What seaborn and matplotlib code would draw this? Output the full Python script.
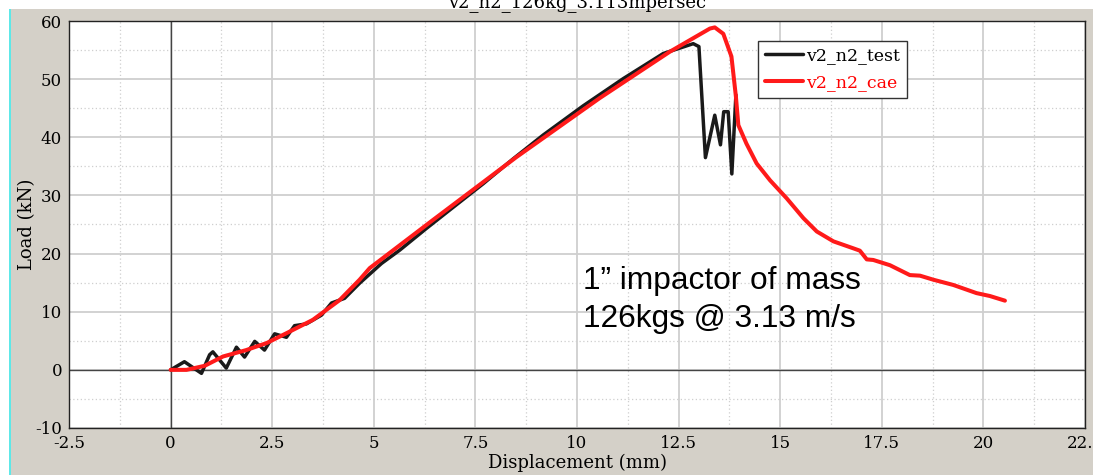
import numpy as np
import pandas as pd
import seaborn as sns
import matplotlib.pyplot as plt
from matplotlib.patches import Rectangle
from matplotlib.ticker import MultipleLocator

# displacement (mm) / load (kN)
test_x = [0.0, 0.34, 0.76, 0.96, 1.04, 1.37, 1.62, 1.82, 2.07, 2.31, 2.56, 2.85,
          3.05, 3.34, 3.71, 3.96, 4.28, 4.65, 5.19, 5.64, 6.29, 6.87, 7.69, 8.43,
          9.17, 10.15, 11.14, 12.12, 12.86, 13.0, 13.16, 13.39, 13.53, 13.61,
          13.72, 13.81, 13.91]
test_y = [0.0, 1.4, -0.6, 2.6, 3.1, 0.3, 3.9, 2.2, 4.9, 3.4, 6.2, 5.6,
          7.6, 7.9, 9.4, 11.5, 12.3, 14.9, 18.3, 20.6, 24.3, 27.5, 32.0, 36.3,
          40.4, 45.4, 50.1, 54.4, 56.1, 55.6, 36.5, 43.8, 38.7, 44.4,
          44.4, 33.7, 47.3]

cae_x = [0.0, 0.39, 0.84, 1.29, 1.86, 2.36, 2.85, 3.5, 4.16, 4.65, 4.9, 6.46,
         8.51, 10.55, 12.28, 13.27, 13.39, 13.6, 13.8, 13.91, 13.97, 14.17,
         14.42, 14.75, 15.16, 15.57, 15.9, 16.31, 16.8, 16.96, 17.13, 17.29,
         17.7, 18.19, 18.44, 18.77, 19.26, 19.83, 20.16, 20.53]
cae_y = [0.0, 0.0, 0.7, 2.3, 3.4, 4.6, 6.3, 8.6, 12.0, 15.5, 17.5, 25.8,
         36.6, 46.7, 54.7, 58.7, 58.9, 57.8, 53.9, 47.0, 42.1, 38.9,
         35.5, 32.6, 29.5, 26.1, 23.8, 22.1, 20.9, 20.5, 19.0, 18.9,
         18.0, 16.3, 16.2, 15.5, 14.6, 13.2, 12.7, 11.9]

x_ticks = [-2.5, 0, 2.5, 5, 7.5, 10, 12.5, 15, 17.5, 20, 22.5]
x_labels = ["-2.5", "0", "2.5", "5", "7.5", "10", "12.5", "15", "17.5", "20", "22.5"]
y_ticks = [-10, 0, 10, 20, 30, 40, 50, 60]

title = "v2_n2_126kg_3.113mpersec"
note = ["1\u201d impactor of mass", "126kgs @ 3.13 m/s"]

sns.set_style("white")
plt.rcParams["axes.unicode_minus"] = False
plt.rcParams["font.family"] = ["DejaVu Serif"]
plt.rcParams["text.color"] = "black"
plt.rcParams["axes.labelcolor"] = "black"
plt.rcParams["xtick.color"] = "black"
plt.rcParams["ytick.color"] = "black"

bg = "#d4d0c8"
fig = plt.figure(figsize=(10.97, 4.75), dpi=100, facecolor=bg)
# white strips and cyan edge of the screenshot
fig.patches.append(Rectangle((0, 1 - 9 / 475), 1, 9 / 475, transform=fig.transFigure,
                             facecolor="white", edgecolor="none", zorder=0))
fig.patches.append(Rectangle((0, 0), 9 / 1097, 1, transform=fig.transFigure,
                             facecolor="white", edgecolor="none", zorder=0))
fig.patches.append(Rectangle((9 / 1097, 0), 2 / 1097, 1 - 9 / 475, transform=fig.transFigure,
                             facecolor="#5ee8e8", edgecolor="none", zorder=0))
fig.patches.append(Rectangle((1 - 4 / 1097, 0), 4 / 1097, 1, transform=fig.transFigure,
                             facecolor="white", edgecolor="none", zorder=0))

ax = fig.add_axes([69 / 1097, 1 - 428 / 475, 1016 / 1097, 407 / 475])
ax.set_facecolor("white")

df_test = pd.DataFrame({"x": test_x, "y": test_y})
df_cae = pd.DataFrame({"x": cae_x, "y": cae_y})
sns.lineplot(data=df_test, x="x", y="y", sort=False, estimator=None, ax=ax,
             color="#1a1a1a", lw=2.5, label="v2_n2_test", zorder=4)
sns.lineplot(data=df_cae, x="x", y="y", sort=False, estimator=None, ax=ax,
             color="#ff1a1a", lw=2.9, label="v2_n2_cae", zorder=5)

ax.set_xlim(-2.5, 22.5)
ax.set_ylim(-10, 60)
ax.set_xticks(x_ticks)
ax.set_xticklabels(x_labels)
ax.set_yticks(y_ticks)
ax.xaxis.set_minor_locator(MultipleLocator(1.25))
ax.yaxis.set_minor_locator(MultipleLocator(5))
ax.grid(which="major", color="#cfcfcf", lw=1.3)
ax.grid(which="minor", color="#cfcfcf", lw=0.9, ls=(0, (1, 2)))
ax.set_axisbelow(True)
ax.axhline(0, color="#444444", lw=1.0, zorder=2)
ax.axvline(0, color="#444444", lw=1.0, zorder=2)
for s in ax.spines.values():
    s.set_color("#222222")
    s.set_linewidth(1.0)
ax.tick_params(which="major", direction="out", length=4, width=0.8,
               labelsize=12, color="#222222", pad=1)
ax.tick_params(which="minor", length=0)
ax.set_xlabel("Displacement (mm)", fontsize=13, labelpad=1.5)
ax.set_ylabel("Load (kN)", fontsize=13, labelpad=-1)

leg = ax.legend(loc="upper left", bbox_to_anchor=(0.678, 0.952), fontsize=12.5,
                frameon=True, fancybox=False, framealpha=1, edgecolor="#333333",
                handlelength=2.2, handletextpad=0.2, borderpad=0.4, labelspacing=0.55,
                borderaxespad=0)
leg.get_frame().set_linewidth(1.0)
for t, c in zip(leg.get_texts(), ["black", "#ff0000"]):
    t.set_color(c)

ax.text(10.14, 13.9, note[0], fontsize=22.8, family=["Liberation Sans", "DejaVu Sans"],
        va="baseline", ha="left", zorder=6)
ax.text(10.14, 7.4, note[1], fontsize=22.8, family=["Liberation Sans", "DejaVu Sans"],
        va="baseline", ha="left", zorder=6)

fig.text(577 / 1097, 1 - 7 / 475, title, fontsize=13, ha="center", va="baseline")

fig.savefig("out.png", dpi=100, facecolor=bg)
